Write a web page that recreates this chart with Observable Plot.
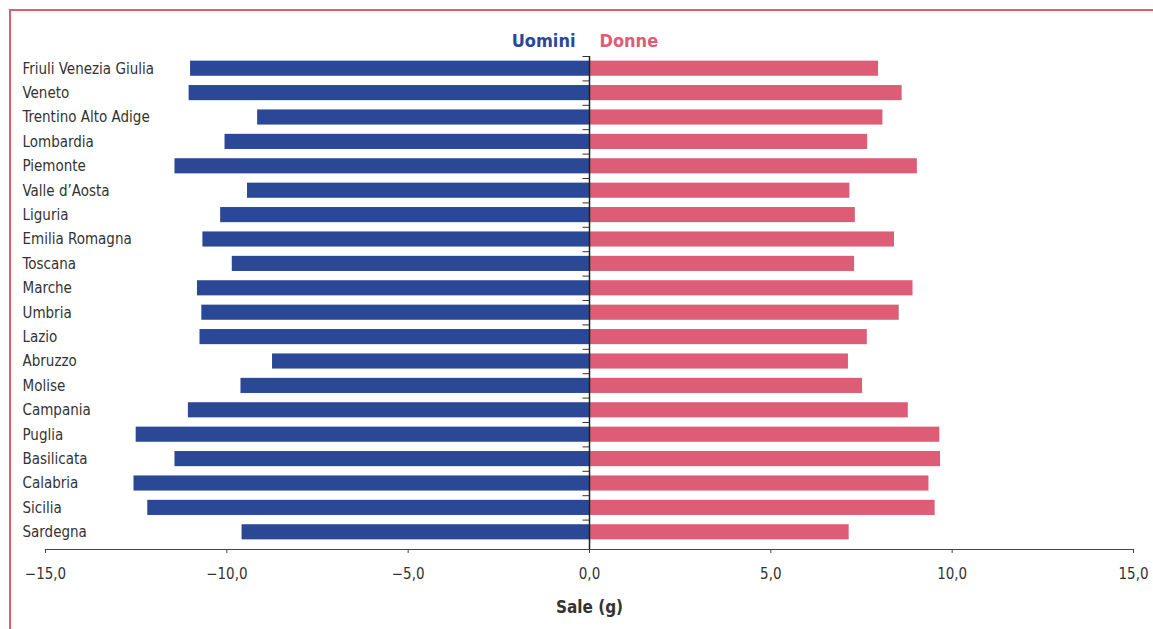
<!DOCTYPE html>
<html>
<head>
<meta charset="utf-8">
<script src="https://cdn.jsdelivr.net/npm/d3@7"></script>
<script src="https://cdn.jsdelivr.net/npm/@observablehq/plot@0.6"></script>
<style>
  html, body { margin: 0; padding: 0; background: #fff; }
  #wrap { position: relative; width: 1153px; height: 629px; overflow: hidden; }
  #border { position: absolute; left: 9px; top: 9px; width: 1200px; height: 700px;
    border-top: 2px solid #d9606e; border-left: 2px solid #d9606e; }
  #chart { position: absolute; left: 0; top: 0; }
  svg { font-family: "Liberation Sans Narrow", "DejaVu Sans Condensed", "Roboto", sans-serif; }
  g[aria-label="x-axis label"] text { font-weight: bold; font-size: 17px; fill: #333; }
</style>
</head>
<body>
<div id="wrap"><div id="border"></div><div id="chart"></div></div>
<script>
const regions = ["Friuli Venezia Giulia","Veneto","Trentino Alto Adige","Lombardia","Piemonte","Valle d’Aosta","Liguria","Emilia Romagna","Toscana","Marche","Umbria","Lazio","Abruzzo","Molise","Campania","Puglia","Basilicata","Calabria","Sicilia","Sardegna"];
const uomini = [-11.0, -11.04, -9.15, -10.05, -11.43, -9.43, -10.17, -10.66, -9.85, -10.81, -10.69, -10.74, -8.74, -9.61, -11.06, -12.5, -11.43, -12.56, -12.18, -9.58];
const donne  = [7.97, 8.62, 8.09, 7.67, 9.04, 7.18, 7.33, 8.41, 7.31, 8.92, 8.54, 7.66, 7.14, 7.53, 8.79, 9.66, 9.68, 9.36, 9.53, 7.16];
const xTicks = [-15, -10, -5, 0, 5, 10, 15];
const seriesNames = ["Uomini", "Donne"];

const blue = "#2a4896";
const pink = "#dc5d75";

const menData = regions.map((r, i) => ({region: r, value: uomini[i]}));
const womenData = regions.map((r, i) => ({region: r, value: donne[i]}));
const fmt = v => (v < 0 ? "\u2212" : "") + Math.abs(v).toFixed(1).replace(".", ",");
const step = (544 - 56) / regions.length;

const chart = Plot.plot({
  width: 1153,
  height: 629,
  marginLeft: 45,
  marginRight: 20,
  marginTop: 56,
  marginBottom: 80,
  style: {fontSize: "15px", color: "#333", background: "transparent"},
  x: {domain: [-15, 15]},
  y: {domain: regions, range: [56, 544], paddingInner: 0.38, paddingOuter: 0.19, round: false},
  marks: [
    Plot.barX(menData, {x: "value", y: "region", fill: blue}),
    Plot.barX(womenData, {x: "value", y: "region", fill: pink}),
    Plot.ruleY(regions, {y: d => d, x1: -0.18, x2: 0, dy: -step / 2, stroke: "#333", strokeWidth: 1}),
    Plot.ruleX([0], {stroke: "#222", strokeWidth: 1.5}),
    Plot.frame({anchor: "bottom", stroke: "#444", strokeWidth: 1.2}),
    Plot.axisX({ticks: xTicks, tickFormat: fmt, tickSize: 4, tickPadding: 15, stroke: "#444",
      label: "Sale (g)", labelAnchor: "center", labelOffset: 63, labelArrow: "none", fontSize: 15}),
    Plot.axisY({tickSize: 0, tickPadding: 0, textAnchor: "start", dx: -23, fontSize: 15, label: null}),
    Plot.text([seriesNames[0]], {x: 0, frameAnchor: "top", dy: -22, dx: -14, textAnchor: "end",
      text: d => d, fill: blue, fontWeight: "bold", fontSize: 18}),
    Plot.text([seriesNames[1]], {x: 0, frameAnchor: "top", dy: -22, dx: 10, textAnchor: "start",
      text: d => d, fill: pink, fontWeight: "bold", fontSize: 18})
  ]
});
document.getElementById("chart").appendChild(chart);
</script>
</body>
</html>
